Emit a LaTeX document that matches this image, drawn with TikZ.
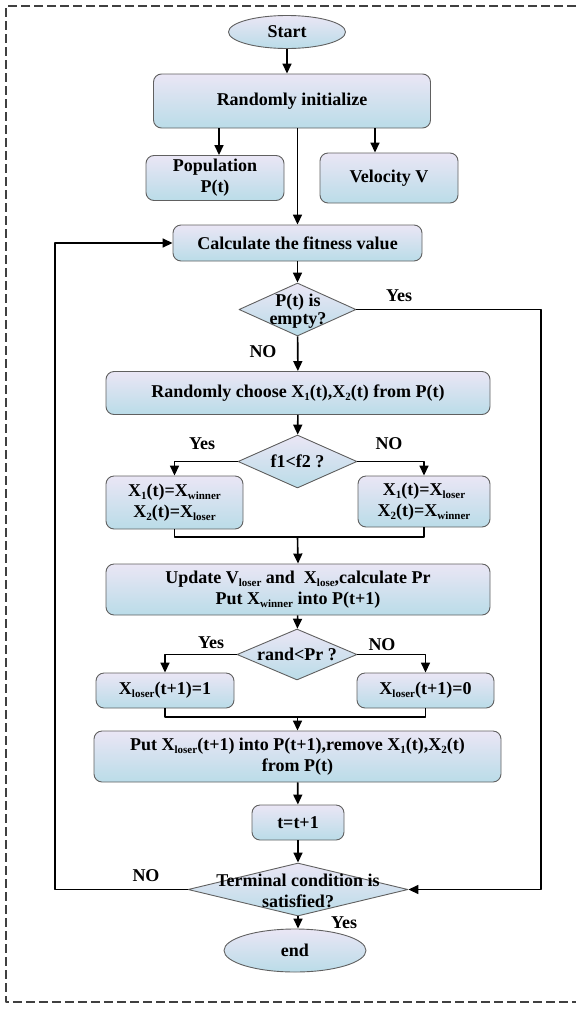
\documentclass[tikz,border=0pt]{standalone}
\usepackage{fontspec}
\setmainfont{Liberation Serif}
\usetikzlibrary{shapes.geometric,arrows.meta}
\definecolor{boxtop}{RGB}{234,230,245}
\definecolor{boxbot}{RGB}{186,220,232}
\definecolor{edgegray}{RGB}{96,96,96}
\newcommand{\lsub}[1]{\raisebox{-0.35ex}{\fontsize{11pt}{11pt}\selectfont #1}}

\begin{document}
\begin{tikzpicture}[x=1pt,y=-1pt,line join=round,
  font=\bfseries\fontsize{18pt}{21pt}\selectfont,
  box/.style={draw=edgegray,line width=0.9pt,rounded corners=8pt,top color=boxtop,bottom color=boxbot,inner sep=0pt,align=center},
  term/.style={ellipse,draw=edgegray,line width=0.9pt,top color=boxtop,bottom color=boxbot,inner sep=0pt},
  dec/.style={diamond,draw=edgegray,line width=0.9pt,top color=boxtop,bottom color=boxbot,inner sep=0pt},
  dtxt/.style={align=center,inner sep=0pt},
  lbl/.style={inner sep=0pt},
  ln/.style={line width=1.6pt},
  arr/.style={line width=1.6pt,-{Triangle[length=10pt,width=9pt]}}]
\useasboundingbox (0,0) rectangle (576,1010);
% outer frame
\draw[black!75,line width=2.6pt,dash pattern=on 9pt off 4pt] (576,6) -- (6,6) -- (6,1002) -- (576,1002);

% initialisation
\node[term,minimum width=117pt,minimum height=33pt] (start) at (287,32) {Start};
\node[box,minimum width=277pt,minimum height=54pt] (init) at (292,101) {Randomly initialize};
\node[box,minimum width=138pt,minimum height=45pt] (pop) at (215,178) {Population\\P(t)};
\node[box,minimum width=138pt,minimum height=50pt] (vel) at (389,178) {Velocity V};
\node[box,minimum width=249pt,minimum height=36pt] (calc) at (297.5,243) {Calculate the fitness value};

% empty test
\node[dec,minimum width=117pt,minimum height=53pt] (empty) at (297.5,309.5) {};
\node[dtxt] (emptyt) at (298,311) {P(t) is\\[-3pt]empty?};
\node[lbl] (yes1) at (399,296) {Yes};
\node[lbl] (no1) at (263,352) {NO};
\node[box,minimum width=384pt,minimum height=43pt] (choose) at (298,393) {Randomly choose X\lsub{1}(t),X\lsub{2}(t) from P(t)};

% competition
\node[dec,minimum width=119pt,minimum height=53pt] (cmp) at (297.5,461.5) {};
\node[dtxt] (cmpt) at (297.5,461.5) {f1<f2 ?};
\node[lbl] (yes2) at (202,444) {Yes};
\node[lbl] (no2) at (389,444) {NO};
\node[box,minimum width=137pt,minimum height=53pt] (win) at (174.5,502.5) {X\lsub{1}(t)=X\lsub{winner}\\X\lsub{2}(t)=X\lsub{loser}};
\node[box,minimum width=132pt,minimum height=51pt] (lose) at (424,501.5) {X\lsub{1}(t)=X\lsub{loser}\\X\lsub{2}(t)=X\lsub{winner}};
\coordinate (join1) at (297.5,537);
\node[box,minimum width=384pt,minimum height=51pt] (upd) at (298,589.5) {Update V\lsub{loser} and~ X\lsub{lose},calculate Pr\\Put X\lsub{winner} into P(t+1)};

% update of the loser
\node[dec,minimum width=120pt,minimum height=51pt] (rnd) at (297,654.5) {};
\node[dtxt] (rndt) at (297,654.5) {rand<Pr ?};
\node[lbl] (yes3) at (211,643) {Yes};
\node[lbl] (no3) at (382,645) {NO};
\node[box,minimum width=138pt,minimum height=35pt] (one) at (165,690.5) {X\lsub{loser}(t+1)=1};
\node[box,minimum width=137pt,minimum height=35pt] (zero) at (425.5,690.5) {X\lsub{loser}(t+1)=0};
\coordinate (join2) at (297.5,717);
\node[box,minimum width=407pt,minimum height=51pt] (put) at (297.5,756.5) {Put X\lsub{loser}(t+1) into P(t+1),remove X\lsub{1}(t),X\lsub{2}(t)\\from P(t)};
\node[box,minimum width=92pt,minimum height=35pt] (tinc) at (298,822.5) {t=t+1};

% stop test
\node[dec,minimum width=220pt,minimum height=53pt] (stop) at (298,889.5) {};
\node[dtxt] (stopt) at (298,891) {Terminal condition is\\satisfied?};
\node[lbl] (no4) at (146,876) {NO};
\node[lbl] (yes4) at (344,923) {Yes};
\node[term,minimum width=142pt,minimum height=43pt] (end) at (295,950.5) {end};
\coordinate (rgt) at (541,309.5);
\coordinate (lft) at (55,889.5);

% connectors
\draw[arr] (start.south) -- (start.south |- init.north);
\draw[arr] ([xshift=4pt]pop.north |- init.south) -- ([xshift=4pt]pop.north);
\draw[arr] ([xshift=-14pt]vel.north |- init.south) -- ([xshift=-14pt]vel.north);
\draw[arr] (calc.north |- init.south) -- (calc.north);
\draw[arr] (calc) -- (empty);
\draw[arr] (empty) -- (choose);
\draw[arr] (empty.east) -- (rgt) |- (stop.east);
\draw[arr] (stop.west) -- (lft) |- (calc.west);
\draw[arr] (choose) -- (cmp);
\draw[arr] (cmp.west) -| (win.north);
\draw[arr] (cmp.east) -| (lose.north);
\draw[ln] (win.south) |- (join1) -| (lose.south);
\draw[arr] (join1) -- (upd.north);
\draw[arr] (upd) -- (rnd);
\draw[arr] (rnd.west) -| (one.north);
\draw[arr] (rnd.east) -| (zero.north);
\draw[ln] (one.south) |- (join2) -| (zero.south);
\draw[arr] (join2) -- (put.north);
\draw[arr] (put) -- (tinc);
\draw[arr] (tinc) -- (stop);
\draw[arr] (stop.south) -- (stop.south |- end.north);
\end{tikzpicture}
\end{document}
